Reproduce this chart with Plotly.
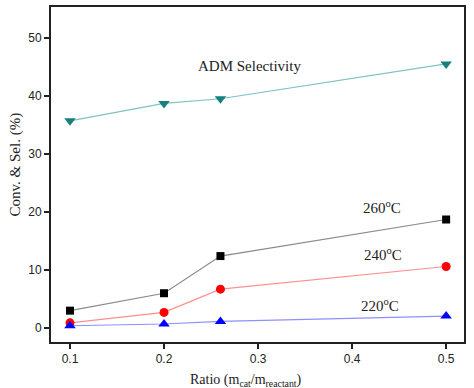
import plotly.graph_objects as go

ratio = [0.1, 0.2, 0.26, 0.5]
adm_sel = [35.7, 38.7, 39.5, 45.5]
conv_260 = [3.0, 6.0, 12.4, 18.7]
conv_240 = [0.9, 2.7, 6.7, 10.6]
conv_220 = [0.4, 0.7, 1.15, 2.07]

series = [
    ("ADM Selectivity", adm_sel, "#167f7f", "#7fc2c2", "triangle-down", 10),
    ("260°C", conv_260, "#000000", "#8a8a8a", "square", 8),
    ("240°C", conv_240, "#ff0000", "#ff8f8f", "circle", 9),
    ("220°C", conv_220, "#0000ff", "#8f8fff", "triangle-up", 10),
]

fig = go.Figure()
for name, ys, mc, lc, sym, sz in series:
    fig.add_trace(go.Scatter(x=ratio, y=ys, name=name, mode="lines+markers",
                             line=dict(color=lc, width=1.2),
                             marker=dict(color=mc, symbol=sym, size=sz)))

labels = [
    (0.291, 45.2, "ADM Selectivity"),
    (0.432, 20.9, "260<sup>o</sup>C"),
    (0.433, 12.8, "240<sup>o</sup>C"),
    (0.43, 4.0, "220<sup>o</sup>C"),
]
for x, y, t in labels:
    fig.add_annotation(x=x, y=y, text=t, showarrow=False,
                       font=dict(family="Liberation Serif", size=15, color="#222"))

# axis titles
fig.add_annotation(x=0.472, y=0, xref="paper", yref="paper", yshift=-38,
                   xanchor="center", yanchor="middle",
                   text="Ratio (m<sub>cat</sub>/m<sub>reactant</sub>)", showarrow=False,
                   font=dict(family="Liberation Serif", size=14, color="#222"))
fig.add_annotation(x=0, y=0.53, xref="paper", yref="paper", xshift=-36,
                   xanchor="center", yanchor="middle",
                   text="Conv. & Sel. (%)", showarrow=False, textangle=-90,
                   font=dict(family="Liberation Serif", size=15, color="#222"))

fig.update_layout(
    width=474, height=388,
    margin=dict(l=51, r=10, t=7, b=46, autoexpand=False),
    paper_bgcolor="white", plot_bgcolor="white",
    showlegend=False,
    font=dict(family="Liberation Sans", size=12, color="#222"),
)
fig.update_xaxes(range=[0.0798, 0.519], tickvals=[0.1, 0.2, 0.3, 0.4, 0.5],
                 ticktext=["0.1", "0.2", "0.3", "0.4", "0.5"], automargin=False,
                 showgrid=False, zeroline=False, showline=True, mirror=True,
                 linecolor="#222", linewidth=2, ticks="outside", ticklen=5,
                 tickwidth=1.5, tickcolor="#222")
fig.update_yaxes(range=[-2.4, 55.3], tickvals=[0, 10, 20, 30, 40, 50], automargin=False,
                 showgrid=False, zeroline=False, showline=True, mirror=True,
                 linecolor="#222", linewidth=2, ticks="outside", ticklen=5,
                 tickwidth=1.5, tickcolor="#222")

fig.write_html("out.html", config={"displayModeBar": False},
               post_script="document.body.style.margin='0';document.body.style.overflow='hidden';")
